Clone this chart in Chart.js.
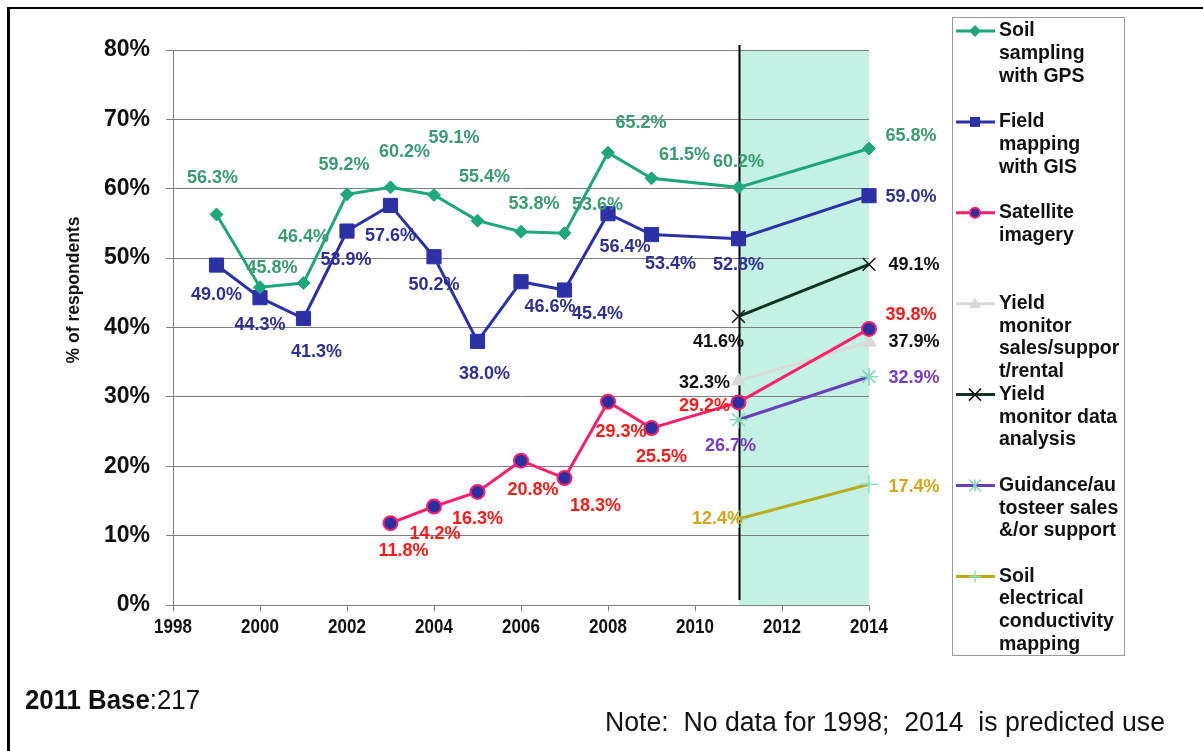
<!DOCTYPE html>
<html>
<head>
<meta charset="utf-8">
<script src="https://cdn.jsdelivr.net/npm/chart.js@4.4.1/dist/chart.umd.min.js"></script>
<style>
  html, body { margin: 0; padding: 0; background: #fff; }
  #wrap { position: relative; width: 1203px; height: 751px; overflow: hidden; }
  #frame { position: absolute; left: 7px; top: 7px; width: 1400px; height: 900px;
           border-left: 3px solid #000; border-top: 2px solid #000; pointer-events: none; }
  .foot { position: absolute; font-family: 'Liberation Sans', Arial, sans-serif;
          font-size: 27px; line-height: 28px; color: #111; white-space: nowrap; transform-origin: 0 50%; }
</style>
</head>
<body>
<div id="wrap">
  <canvas id="chart" width="1203" height="751"></canvas>
  <div id="frame"></div>
  <div class="foot" id="base" data-w="175" style="left:25px; top:686px;"><b>2011 Base</b>:217</div>
  <div class="foot" id="note" data-w="560" style="left:605px; top:708px;">Note:&nbsp; No data for 1998;&nbsp; 2014&nbsp; is predicted use</div>
</div>
<script>
// years
const years = [1999, 2000, 2001, 2002, 2003, 2004, 2005, 2006, 2007, 2008, 2009, 2011, 2014];
const satYears = [2003, 2004, 2005, 2006, 2007, 2008, 2009, 2011, 2014];
const newYears = [2011, 2014];

// % of respondents
const soilGps = [56.3, 45.8, 46.4, 59.2, 60.2, 59.1, 55.4, 53.8, 53.6, 65.2, 61.5, 60.2, 65.8];
const fieldGis = [49.0, 44.3, 41.3, 53.9, 57.6, 50.2, 38.0, 46.6, 45.4, 56.4, 53.4, 52.8, 59.0];
const satellite = [11.8, 14.2, 16.3, 20.8, 18.3, 29.3, 25.5, 29.2, 39.8];
const yieldSales = [32.3, 37.9];
const yieldAnalysis = [41.6, 49.1];
const guidance = [26.7, 32.9];
const soilEc = [12.4, 17.4];

const yTicks = [0, 10, 20, 30, 40, 50, 60, 70, 80];
const xTicks = [1998, 2000, 2002, 2004, 2006, 2008, 2010, 2012, 2014];

// label offsets (px) from each point
const soilGpsOff = [[-4,-36],[12,-19],[0,-46],[-3,-29],[14,-35],[20,-57],[7,-44],[13,-28],[33,-28],[33,-30],[33,-23],[0,-25],[42,-12]];
const fieldGisOff = [[0,30],[0,27],[13,34],[-1,29],[0,31],[0,28],[7,33],[29,25],[33,24],[17,33],[19,29],[0,26],[42,1]];
const satelliteOff = [[13,28],[1,28],[0,27],[12,29],[31,28],[13,30],[10,29],[-34,4],[42,-14]];
const yieldSalesOff = [[-34,2],[45,0]];
const yieldAnalysisOff = [[-20,26],[45,1]];
const guidanceOff = [[-8,26],[45,1]];
const soilEcOff = [[-21,0],[45,3]];

const pts = (xs, ys) => xs.map((x, i) => ({ x: x, y: ys[i] }));
const FONT = "'Liberation Sans', Arial, sans-serif";

const datasets = [
  { label: 'Soil sampling with GPS', legend: ['Soil', 'sampling', 'with GPS'],
    data: pts(years, soilGps), off: soilGpsOff, labelColor: '#3a9a70',
    borderColor: '#1fa77c', backgroundColor: '#1fa77c', pointStyle: 'rectRot', pointRadius: 6.5 },
  { label: 'Field mapping with GIS', legend: ['Field', 'mapping', 'with GIS'],
    data: pts(years, fieldGis), off: fieldGisOff, labelColor: '#2e3192',
    borderColor: '#2d31a6', backgroundColor: '#2d31a6', pointStyle: 'rect', pointRadius: 10 },
  { label: 'Satellite imagery', legend: ['Satellite', 'imagery'],
    data: pts(satYears, satellite), off: satelliteOff, labelColor: '#ff1a1a',
    borderColor: '#ff1f6b', backgroundColor: '#2b2fa0', pointStyle: 'circle', pointRadius: 7,
    pointBorderColor: '#ff1f6b', pointBorderWidth: 2 },
  { label: 'Yield monitor sales/support/rental', legend: ['Yield', 'monitor', 'sales/suppor', 't/rental'],
    data: pts(newYears, yieldSales), off: yieldSalesOff, labelColor: '#111',
    borderColor: '#d9d9d9', backgroundColor: '#d9d9d9', pointStyle: 'triangle', pointRadius: 8 },
  { label: 'Yield monitor data analysis', legend: ['Yield', 'monitor data', 'analysis'],
    data: pts(newYears, yieldAnalysis), off: yieldAnalysisOff, labelColor: '#111',
    borderColor: '#12331f', backgroundColor: '#111', pointStyle: 'crossRot', pointRadius: 9,
    pointBorderColor: '#111', pointBorderWidth: 1.5 },
  { label: 'Guidance/autosteer sales &/or support', legend: ['Guidance/au', 'tosteer sales', '&/or support'],
    data: pts(newYears, guidance), off: guidanceOff, labelColor: '#7a3cc0',
    borderColor: '#6a40b8', backgroundColor: '#86d6b6', pointStyle: 'star', pointRadius: 9,
    pointBorderColor: '#86d6b6', pointBorderWidth: 1.5 },
  { label: 'Soil electrical conductivity mapping', legend: ['Soil', 'electrical', 'conductivity', 'mapping'],
    data: pts(newYears, soilEc), off: soilEcOff, labelColor: '#d4a51a',
    borderColor: '#b8ac1c', backgroundColor: '#8ee0c2', pointStyle: 'cross', pointRadius: 9,
    pointBorderColor: '#8ee0c2', pointBorderWidth: 1.5 }
];
datasets.forEach(d => {
  d.borderWidth = 3;
  d.tension = 0;
  d.clip = false;
  d.pointHoverRadius = d.pointRadius;
  if (!d.pointBorderColor) { d.pointBorderColor = d.backgroundColor; d.pointBorderWidth = 1; }
  d.pointBackgroundColor = d.backgroundColor;
});

function drawMarker(ctx, style, x, y, r, fill, stroke, lw) {
  ctx.save();
  ctx.fillStyle = fill; ctx.strokeStyle = stroke; ctx.lineWidth = lw;
  ctx.beginPath();
  if (style === 'rectRot') {
    ctx.moveTo(x, y - r); ctx.lineTo(x + r, y); ctx.lineTo(x, y + r); ctx.lineTo(x - r, y); ctx.closePath();
    ctx.fill();
  } else if (style === 'rect') {
    ctx.rect(x - r, y - r, 2 * r, 2 * r); ctx.fill();
  } else if (style === 'circle') {
    ctx.arc(x, y, r, 0, Math.PI * 2); ctx.fill(); ctx.stroke();
  } else if (style === 'triangle') {
    ctx.moveTo(x, y - r); ctx.lineTo(x + r, y + r * 0.7); ctx.lineTo(x - r, y + r * 0.7); ctx.closePath(); ctx.fill();
  } else if (style === 'crossRot') {
    ctx.moveTo(x - r, y - r); ctx.lineTo(x + r, y + r); ctx.moveTo(x + r, y - r); ctx.lineTo(x - r, y + r); ctx.stroke();
  } else if (style === 'star') {
    ctx.moveTo(x - r, y - r); ctx.lineTo(x + r, y + r); ctx.moveTo(x + r, y - r); ctx.lineTo(x - r, y + r);
    ctx.moveTo(x, y - r); ctx.lineTo(x, y + r); ctx.stroke();
  } else if (style === 'cross') {
    ctx.moveTo(x, y - r); ctx.lineTo(x, y + r); ctx.moveTo(x - r, y); ctx.lineTo(x + r, y); ctx.stroke();
  }
  ctx.restore();
}

const decor = {
  id: 'decor',
  beforeDraw(chart) {
    const { ctx, chartArea: a, scales: { x } } = chart;
    ctx.save();
    ctx.fillStyle = '#c3f2e4';
    ctx.fillRect(x.getPixelForValue(2011), a.top, x.getPixelForValue(2014) - x.getPixelForValue(2011), a.bottom - a.top);
    ctx.restore();
  },
  beforeDatasetsDraw(chart) {
    const { ctx, chartArea: a, scales: { x } } = chart;
    const px = Math.round(x.getPixelForValue(2011)) + 0.5;
    ctx.save();
    ctx.strokeStyle = '#000'; ctx.lineWidth = 2;
    ctx.beginPath(); ctx.moveTo(px, a.top - 5); ctx.lineTo(px, a.bottom - 5); ctx.stroke();
    // condensed x tick labels, placed from the axis ticks
    ctx.font = 'bold 21px ' + FONT; ctx.fillStyle = '#111';
    ctx.textAlign = 'center'; ctx.textBaseline = 'middle';
    x.ticks.forEach(t => {
      ctx.save();
      ctx.translate(x.getPixelForValue(t.value), a.bottom + 22);
      ctx.scale(0.81, 1);
      ctx.fillText(String(t.value), 0, 0);
      ctx.restore();
    });
    ctx.restore();
  },
  afterDatasetsDraw(chart) {
    const ctx = chart.ctx;
    ctx.save();
    ctx.font = 'bold 18px ' + FONT;
    ctx.textAlign = 'center'; ctx.textBaseline = 'middle';
    chart.data.datasets.forEach((ds, i) => {
      chart.getDatasetMeta(i).data.forEach((el, j) => {
        ctx.fillStyle = ds.labelColor;
        ctx.fillText(ds.data[j].y.toFixed(1) + '%', el.x + ds.off[j][0], el.y + ds.off[j][1]);
      });
    });
    // y axis title
    ctx.save();
    ctx.translate(74, 290); ctx.rotate(-Math.PI / 2);
    ctx.font = 'bold 17.5px ' + FONT; ctx.fillStyle = '#111';
    ctx.fillText('% of respondents', 0, 0);
    ctx.restore();
    ctx.restore();
  },
  afterDraw(chart) {
    const ctx = chart.ctx;
    ctx.save();
    ctx.strokeStyle = '#9a9a9a'; ctx.lineWidth = 1;
    ctx.strokeRect(952.5, 17.5, 172, 638);
    ctx.font = 'bold 19.5px ' + FONT; ctx.fillStyle = '#111';
    ctx.textAlign = 'left'; ctx.textBaseline = 'middle';
    chart.data.datasets.forEach((ds, i) => {
      const y0 = 31 + i * 90.9;
      ctx.strokeStyle = ds.borderColor; ctx.lineWidth = 3;
      ctx.beginPath(); ctx.moveTo(956, y0); ctx.lineTo(995, y0); ctx.stroke();
      const s = ds.pointStyle;
      const r = s === 'rect' ? 5 : (s === 'circle' ? 5 : 6);
      drawMarker(ctx, s, 975, y0, r, ds.pointBackgroundColor, ds.pointBorderColor, ds.pointBorderWidth);
      ds.legend.forEach((t, k) => ctx.fillText(t, 999, y0 + k * 22.7));
    });
    ctx.restore();
  }
};

new Chart(document.getElementById('chart'), {
  type: 'line',
  data: { datasets: datasets },
  plugins: [decor],
  options: {
    responsive: false,
    animation: false,
    layout: { padding: { left: 50, top: 50, right: 334, bottom: 0 } },
    plugins: { legend: { display: false }, tooltip: { enabled: false } },
    scales: {
      x: {
        type: 'linear', min: 1998, max: 2014,
        afterBuildTicks: s => { s.ticks = xTicks.map(v => ({ value: v })); },
        afterFit: s => { s.height = 146; },
        grid: { drawOnChartArea: false, drawTicks: true, tickLength: 6, tickColor: '#808080' },
        border: { color: '#808080', width: 1 },
        ticks: { display: false }
      },
      y: {
        min: 0, max: 80,
        afterBuildTicks: s => { s.ticks = yTicks.map(v => ({ value: v })); },
        afterFit: s => { s.width = 123; },
        grid: { color: '#7f7f7f', lineWidth: 1, drawTicks: true, tickLength: 7, tickColor: '#7f7f7f' },
        border: { color: '#808080', width: 1 },
        ticks: { color: '#111', padding: 16, font: { family: FONT, size: 23, weight: 'bold' }, callback: v => v + '%' }
      }
    }
  }
});

// squeeze footer notes to the reference widths
document.querySelectorAll('.foot').forEach(el => {
  const w = el.getBoundingClientRect().width;
  el.style.transform = 'scaleX(' + (Number(el.dataset.w) / w) + ')';
});
</script>
</body>
</html>
